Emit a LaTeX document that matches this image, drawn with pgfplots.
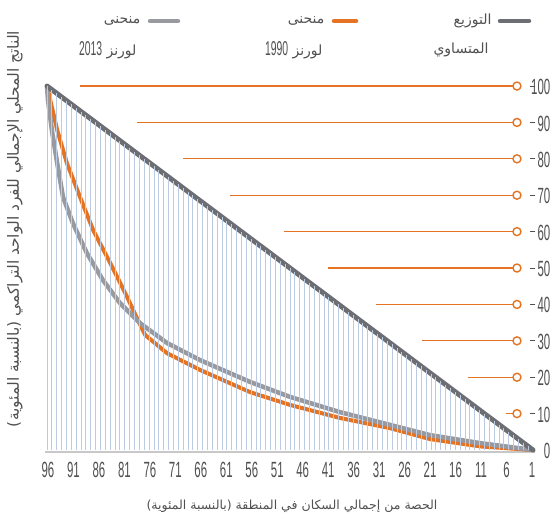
\documentclass[border=0pt]{standalone}
\usepackage{pgfplots}
\pgfplotsset{compat=1.18}
\usepackage{fontspec}
\setmainfont{DejaVu Sans}
\newfontfamily\arabicfont[Script=Arabic]{DejaVu Sans}
\newfontfamily\numfont[FakeStretch=0.52]{Liberation Sans}
\TeXXeTstate=1
\definecolor{lorange}{RGB}{228,115,35}
\definecolor{lgray}{RGB}{152,154,160}
\definecolor{ldiag}{RGB}{108,110,115}
\definecolor{lblue}{RGB}{188,203,228}
\definecolor{labelgray}{RGB}{80,80,80}
\definecolor{axgray}{RGB}{200,200,200}
\begin{document}
\begin{tikzpicture}
\useasboundingbox (0,0) rectangle (555pt,520pt);
\begin{axis}[
  at={(44.57pt,67.8pt)}, anchor=south west,
  scale only axis, width=490.86pt, height=369.8pt,
  x dir=reverse, xmin=-0.5, xmax=100.5, ymin=-0.6, ymax=101,
  clip=false,
  axis x line*=bottom, axis y line*=right,
  x axis line style={draw=axgray, line width=1.5pt},
  y axis line style={draw=none},
  xtick={0.2,5.44,10.68,15.93,21.17,26.41,31.65,36.89,42.14,47.38,52.62,57.86,63.10,68.35,73.59,78.83,84.07,89.31,94.56,99.8},
  xticklabels={1,6,11,16,21,26,31,36,41,46,51,56,61,66,71,76,81,86,91,96},
  xtick style={draw=none},
  ytick={0,10,20,30,40,50,60,70,80,90,100},
  yticklabels={0,10,20,30,40,50,60,70,80,90,100},
  ytick style={draw=labelgray, line width=0.7pt},
  major tick length=5pt, tick align=inside,
  xticklabel style={font=\numfont\fontsize{22}{24}\selectfont, text=labelgray, inner sep=0pt, anchor=base, yshift=-25.5pt},
  yticklabel style={font=\numfont\fontsize{22}{24}\selectfont, text=labelgray, inner sep=0pt, anchor=east, xshift=15pt, yshift=-1pt},
]
% 1990 Lorenz curve
\addplot[lorange, line width=4pt, line join=round] coordinates {
(100,100) (97.9,87.9) (95.9,78.8) (93.2,69.5) (90.5,60.4) (87.0,51.4) (83.5,42.0) (81.3,35.7) (79.8,31.6) (75.3,26.6) (68.5,22.0) (58.2,15.9) (50.0,12.4) (39.7,8.8) (29.4,6.0) (21.2,3.0) (10.9,1.0) (0,0)};
% 2013 Lorenz curve
\addplot[lgray, line width=4.5pt, line join=round] coordinates {
(100,100) (99.8,96.2) (99.0,87.9) (97.9,78.8) (96.7,69.5) (94.7,62.4) (91.8,54.1) (88.5,46.7) (85.0,40.4) (80.9,34.9) (75.3,29.4) (68.5,24.7) (58.2,18.7) (50.0,14.6) (39.7,10.4) (29.4,6.9) (21.2,4.1) (10.9,1.9) (0,0)};
% equal distribution
\addplot[ldiag, line width=5pt, line cap=round] coordinates {(100,100) (0,0)};
% vertical lines
\addplot[ycomb, lblue, line width=0.8pt, mark=none] coordinates {
(1,1)(2,2)(3,3)(4,4)(5,5)(6,6)(7,7)(8,8)(9,9)(10,10)
(11,11)(12,12)(13,13)(14,14)(15,15)(16,16)(17,17)(18,18)(19,19)(20,20)
(21,21)(22,22)(23,23)(24,24)(25,25)(26,26)(27,27)(28,28)(29,29)(30,30)
(31,31)(32,32)(33,33)(34,34)(35,35)(36,36)(37,37)(38,38)(39,39)(40,40)
(41,41)(42,42)(43,43)(44,44)(45,45)(46,46)(47,47)(48,48)(49,49)(50,50)
(51,51)(52,52)(53,53)(54,54)(55,55)(56,56)(57,57)(58,58)(59,59)(60,60)
(61,61)(62,62)(63,63)(64,64)(65,65)(66,66)(67,67)(68,68)(69,69)(70,70)
(71,71)(72,72)(73,73)(74,74)(75,75)(76,76)(77,77)(78,78)(79,79)(80,80)
(81,81)(82,82)(83,83)(84,84)(85,85)(86,86)(87,87)(88,88)(89,89)(90,90)
(91,91)(92,92)(93,93)(94,94)(95,95)(96,96)(97,97)(98,98)(99,99)(100,100)};
% orange guide lines with circles
\addplot[only marks, mark=*, mark size=4pt, mark options={draw=lorange, fill=white, line width=1.4pt},
  error bars/.cd, x dir=plus, x explicit, error mark=none, error bar style={lorange, line width=1.1pt}]
  table[x=x, y=y, x error=e] {
x y e
3.3 100 89.9
3.3 90 78.2
3.3 80 68.7
3.3 70 59.0
3.3 60 47.9
3.3 50 38.9
3.3 40 29.0
3.3 30 19.5
3.3 20 10.1
3.3 10 2.3
};
\end{axis}
% axis titles
\node[rotate=90, font=\arabicfont\fontsize{15.5}{18}\selectfont, text=labelgray] at (15pt,291pt)
  {\beginR الناتج المحلي الإجمالي للفرد الواحد التراكمي (بالنسبة المئوية)\endR};
\node[font=\arabicfont\fontsize{12.5}{14}\selectfont, text=labelgray] at (292pt,14pt)
  {\beginR الحصة من إجمالي السكان في المنطقة (بالنسبة المئوية)\endR};
% legend
\draw[ldiag, line width=4.5pt, line cap=round] (500pt,499pt) -- (529pt,499pt);
\node[anchor=east, font=\arabicfont\fontsize{14}{16}\selectfont, text=labelgray] at (495pt,499pt) {\beginR التوزيع\endR};
\node[anchor=east, font=\arabicfont\fontsize{14}{16}\selectfont, text=labelgray] at (492pt,470pt) {\beginR المتساوي\endR};
\draw[lorange, line width=4.5pt, line cap=round] (334pt,499pt) -- (356pt,499pt);
\node[anchor=east, font=\arabicfont\fontsize{14}{16}\selectfont, text=labelgray] at (328pt,499pt) {\beginR منحنى\endR};
\node[anchor=east, font=\arabicfont\fontsize{14}{16}\selectfont, text=labelgray] at (326pt,470pt) {\beginR لورنز {\numfont\fontsize{20}{22}\selectfont 1990}\endR};
\draw[lgray, line width=4.5pt, line cap=round] (150pt,499pt) -- (178pt,499pt);
\node[anchor=east, font=\arabicfont\fontsize{14}{16}\selectfont, text=labelgray] at (144pt,499pt) {\beginR منحنى\endR};
\node[anchor=east, font=\arabicfont\fontsize{14}{16}\selectfont, text=labelgray] at (140pt,470pt) {\beginR لورنز {\numfont\fontsize{20}{22}\selectfont 2013}\endR};
\end{tikzpicture}
\end{document}
